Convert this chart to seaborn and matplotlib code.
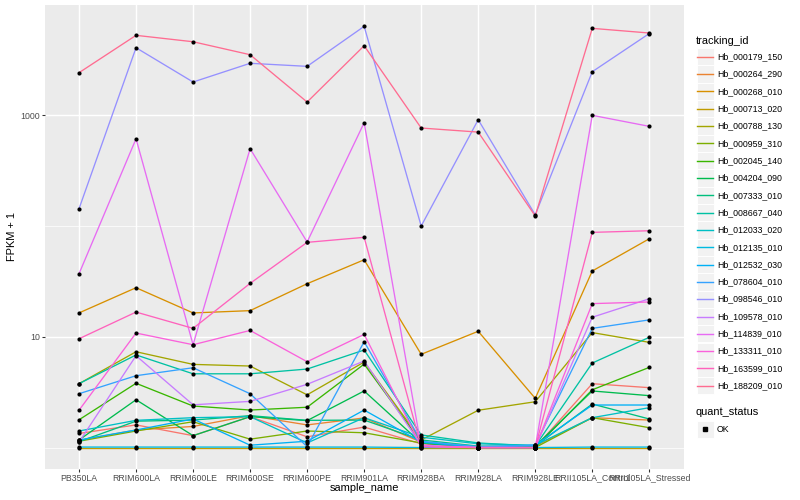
import numpy as np
import pandas as pd
import matplotlib
matplotlib.use("Agg")
import matplotlib.pyplot as plt
import seaborn as sns
from matplotlib.lines import Line2D
from matplotlib.patches import Rectangle
from matplotlib.ticker import FixedLocator, NullFormatter

# ---------------- data (values are FPKM + 1) ----------------
samples = ["PB350LA", "RRIM600LA", "RRIM600LE", "RRIM600SE", "RRIM600PE",
           "RRIM901LA", "RRIM928BA", "RRIM928LA", "RRIM928LE",
           "RRII105LA_Control", "RRII105LA_Stressed"]

tracking_ids = ["Hb_000179_150", "Hb_000264_290", "Hb_000268_010", "Hb_000713_020",
                "Hb_000788_130", "Hb_000959_310", "Hb_002045_140", "Hb_004204_090",
                "Hb_007333_010", "Hb_008667_040", "Hb_012033_020", "Hb_012135_010",
                "Hb_012532_030", "Hb_078604_010", "Hb_098546_010", "Hb_109578_010",
                "Hb_114839_010", "Hb_133311_010", "Hb_163599_010", "Hb_188209_010"]

Hb_000179_150 = [1.34, 1.60, 1.28, 1.90, 1.25, 1.53, 1.08, 1.00, 1.00, 3.77, 3.47]
Hb_000264_290 = [1.16, 1.44, 1.55, 1.94, 1.60, 1.85, 1.12, 1.00, 1.03, 1.86, 1.77]
Hb_000268_010 = [16.4, 27.7, 16.4, 17.2, 30.1, 49.5, 6.94, 11.2, 2.78, 39.2, 76.6]
Hb_000713_020 = [1.00, 1.00, 1.00, 1.00, 1.00, 1.00, 1.00, 1.00, 1.00, 1.00, 1.00]
Hb_000788_130 = [3.77, 7.32, 5.63, 5.44, 2.99, 5.91, 1.17, 2.17, 2.59, 10.9, 8.90]
Hb_000959_310 = [1.14, 1.41, 1.71, 1.19, 1.41, 1.36, 1.10, 1.00, 1.00, 1.86, 1.51]
Hb_002045_140 = [1.78, 3.80, 2.37, 2.18, 2.31, 5.66, 1.12, 1.00, 1.00, 3.32, 5.29]
Hb_004204_090 = [1.17, 2.70, 1.28, 1.90, 1.75, 3.24, 1.10, 1.00, 1.03, 3.24, 2.94]
Hb_007333_010 = [1.13, 1.73, 1.77, 1.94, 1.76, 1.77, 1.17, 1.03, 1.03, 2.47, 1.81]
Hb_008667_040 = [3.77, 6.85, 4.63, 4.63, 5.11, 7.59, 1.30, 1.10, 1.03, 5.79, 9.88]
Hb_012033_020 = [1.41, 1.76, 1.86, 1.90, 1.10, 1.86, 1.24, 1.08, 1.05, 1.86, 2.29]
Hb_012135_010 = [1.01, 1.01, 1.01, 1.01, 1.01, 1.01, 1.00, 1.00, 1.00, 1.01, 1.01]
Hb_012532_030 = [1.17, 1.44, 1.81, 1.05, 1.14, 2.18, 1.12, 1.00, 1.05, 2.42, 2.42]
Hb_078604_010 = [3.06, 4.45, 5.25, 3.06, 1.02, 9.02, 1.14, 1.02, 1.05, 11.9, 14.2]
Hb_098546_010 = [143, 4057, 1990, 2936, 2756, 6327, 99.8, 909, 126, 2465, 5450]
Hb_109578_010 = [1.12, 6.74, 2.43, 2.61, 3.72, 6.04, 1.05, 1.00, 1.00, 15.0, 22.0]
Hb_114839_010 = [37.0, 612, 8.47, 498, 71.6, 854, 1.02, 1.00, 1.00, 996, 792]
Hb_133311_010 = [2.17, 10.8, 8.47, 11.4, 5.95, 10.5, 1.03, 1.00, 1.00, 19.9, 20.6]
Hb_163599_010 = [9.59, 16.7, 11.9, 30.3, 71.1, 78.9, 1.02, 1.00, 1.00, 87.5, 90.5]
Hb_188209_010 = [2415, 5250, 4595, 3510, 1313, 4230, 765, 703, 123, 6070, 5510]

series_values = [Hb_000179_150, Hb_000264_290, Hb_000268_010, Hb_000713_020,
                 Hb_000788_130, Hb_000959_310, Hb_002045_140, Hb_004204_090,
                 Hb_007333_010, Hb_008667_040, Hb_012033_020, Hb_012135_010,
                 Hb_012532_030, Hb_078604_010, Hb_098546_010, Hb_109578_010,
                 Hb_114839_010, Hb_133311_010, Hb_163599_010, Hb_188209_010]

palette = ["#F8766D", "#EA8331", "#D89000", "#C09B00", "#A3A500", "#7CAE00",
           "#39B600", "#00BB4E", "#00BF7D", "#00C1A3", "#00BFC4", "#00BAE0",
           "#00B0F6", "#35A2FF", "#9590FF", "#C77CFF", "#E76BF3", "#FA62DB",
           "#FF62BC", "#FF6C91"]

rows = []
for tid, vals in zip(tracking_ids, series_values):
    for i, (s, v) in enumerate(zip(samples, vals)):
        rows.append({"tracking_id": tid, "sample_name": s, "pos": i, "value": v})
df = pd.DataFrame(rows)

# ---------------- figure ----------------
W, H = 800, 500
plt.rcParams['font.family'] = ['Liberation Sans', 'DejaVu Sans']
fig = plt.figure(figsize=(W / 100, H / 100), dpi=100)

def fx(x):
    return x / W

def fy(y):
    return 1 - y / H

left, right, top, bottom = 44.8, 683.5, 5.3, 468.6
ax = fig.add_axes([fx(left), fy(bottom), (right - left) / W, (bottom - top) / H])
ax.set_facecolor("#EBEBEB")
for sp in ax.spines.values():
    sp.set_visible(False)

sns.lineplot(data=df, x="pos", y="value", hue="tracking_id", hue_order=tracking_ids,
             palette=palette, estimator=None, sort=False, linewidth=0.95,
             legend=False, ax=ax, zorder=3)
sns.scatterplot(data=df, x="pos", y="value", color="black", s=9, linewidth=0,
                marker="o", legend=False, ax=ax, zorder=4)

ax.set_yscale("log")
lv = np.log10(df["value"].to_numpy())
lo, hi = lv.min(), lv.max()
pad = 0.05 * (hi - lo)
ax.set_ylim(10 ** (lo - pad), 10 ** (hi + pad))
ax.set_xlim(-0.6, len(samples) - 1 + 0.6)

ax.yaxis.set_major_locator(FixedLocator([10, 1000]))
ax.set_yticklabels(["10", "1000"])
ax.yaxis.set_minor_locator(FixedLocator([1, 100]))
ax.yaxis.set_minor_formatter(NullFormatter())
ax.set_xticks(range(len(samples)))
ax.set_xticklabels(samples)

ax.grid(which="major", color="white", linewidth=1.02)
ax.grid(which="minor", axis="y", color="white", linewidth=0.51)
ax.set_axisbelow(True)
ax.tick_params(which="major", length=1.98, width=0.77, color="#333333",
               labelsize=6.34, labelcolor="#4D4D4D", pad=1.6)
ax.tick_params(which="minor", length=0)

ax.set_xlabel("")
ax.set_ylabel("")
fig.text(fx((left + right) / 2), fy(488), "sample_name", fontsize=7.92,
         ha="center", va="center", color="black")
fig.text(fx(12.5), fy((top + bottom) / 2), "FPKM + 1", fontsize=7.92,
         ha="center", va="center", rotation=90, color="black")

# ---------------- legend (ggplot style) ----------------
fig.text(fx(696), fy(40.7), "tracking_id", fontsize=7.92, ha="left", va="center")
step = 17.32
for i, (tid, col) in enumerate(zip(tracking_ids, palette)):
    yc = 56.7 + i * step
    fig.add_artist(Rectangle((fx(696.5), fy(yc + 8.64)), 17.28 / W, 17.28 / H,
                             transform=fig.transFigure, facecolor="#F2F2F2",
                             edgecolor="white", linewidth=0.7))
    fig.add_artist(Line2D([fx(697.3), fx(713)], [fy(yc), fy(yc)],
                          transform=fig.transFigure, color=col, linewidth=1.02))
    fig.text(fx(717), fy(yc), tid, fontsize=6.34, ha="left", va="center")

fig.text(fx(696), fy(411.7), "quant_status", fontsize=7.92, ha="left", va="center")
fig.add_artist(Rectangle((fx(696.5), fy(429.3 + 8.64)), 17.28 / W, 17.28 / H,
                         transform=fig.transFigure, facecolor="#F2F2F2",
                         edgecolor="white", linewidth=0.7))
fig.add_artist(Line2D([fx(705.1)], [fy(429.3)], transform=fig.transFigure,
                      marker="s", markersize=2.6, color="black", linestyle="none"))
fig.text(fx(717), fy(429.3), "OK", fontsize=6.34, ha="left", va="center")

fig.savefig("out.png", dpi=100, facecolor="white")
